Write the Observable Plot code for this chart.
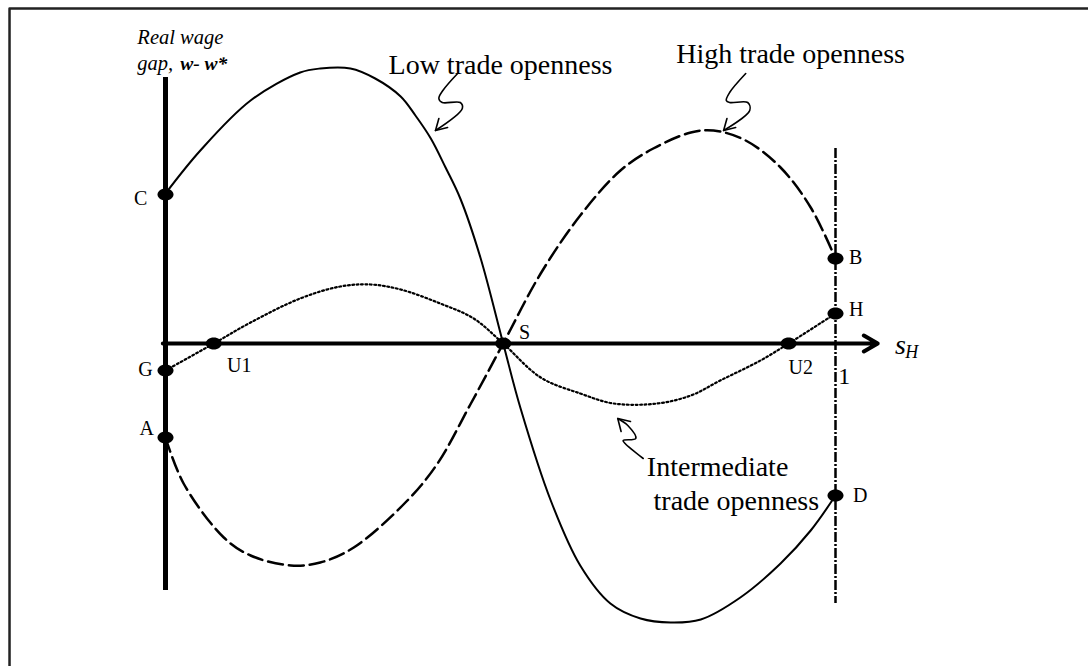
<!DOCTYPE html>
<html>
<head>
<meta charset="utf-8">
<script src="https://cdn.jsdelivr.net/npm/d3@7"></script>
<script src="https://cdn.jsdelivr.net/npm/@observablehq/plot@0.6"></script>
<style>
  html, body { margin: 0; padding: 0; background: #fff; }
  #chart svg { display: block; }
</style>
</head>
<body>
<div id="chart"></div>
<script>
// ---- Data (s_H share on x, real wage gap w - w* on y, arbitrary units) ----
const lowS  = [0, 0.052, 0.127, 0.201, 0.231, 0.276, 0.313, 0.351, 0.373, 0.396, 0.418, 0.440, 0.470, 0.504, 0.530, 0.575, 0.619, 0.664, 0.709, 0.754, 0.799, 0.858, 0.918, 0.963, 1.0];
const lowW  = [1.50, 1.93, 2.43, 2.71, 2.75, 2.75, 2.65, 2.47, 2.28, 2.05, 1.76, 1.45, 0.86, 0, -0.65, -1.57, -2.22, -2.60, -2.75, -2.79, -2.76, -2.54, -2.20, -1.87, -1.52];

const highS = [0, 0.027, 0.087, 0.127, 0.187, 0.231, 0.281, 0.361, 0.406, 0.455, 0.504, 0.560, 0.619, 0.679, 0.728, 0.784, 0.818, 0.866, 0.918, 0.963, 1.0];
const highW = [-0.94, -1.40, -1.94, -2.12, -2.22, -2.19, -2.04, -1.57, -1.20, -0.61, 0, 0.70, 1.28, 1.73, 1.95, 2.11, 2.13, 2.03, 1.76, 1.36, 0.85];

const midS  = [0, 0.072, 0.127, 0.201, 0.261, 0.306, 0.351, 0.410, 0.460, 0.504, 0.560, 0.619, 0.669, 0.734, 0.784, 0.828, 0.888, 0.930, 1.0];
const midW  = [-0.27, 0, 0.21, 0.45, 0.57, 0.59, 0.54, 0.40, 0.25, 0, -0.34, -0.50, -0.60, -0.60, -0.52, -0.37, -0.17, 0, 0.30];

const pointNames = ["C", "A", "G", "U1", "S", "U2", "B", "H", "D"];
const pointS     = [0, 0, 0, 0.072, 0.504, 0.930, 1, 1, 1];
const pointW     = [1.49, -0.94, -0.27, 0, 0, 0, 0.85, 0.30, -1.52];
const labelS     = [-0.037, -0.028, -0.030, 0.110, 0.536, 0.948, 1.030, 1.031, 1.037];
const labelW     = [1.45, -0.85, -0.26, -0.22, 0.11, -0.24, 0.86, 0.34, -1.52];

const curveNames = ["Low trade openness", "High trade openness", "Intermediate", "trade openness"];
const curveLabelS = [0.500, 0.933, 0.824, 0.852];
const curveLabelW = [2.78, 2.89, -1.24, -1.58];

// squiggly pointer arrows (shaft + head)
const lowArrowS  = [0.436, 0.414, 0.408, 0.413, 0.440, 0.443, 0.403];
const lowArrowW  = [2.70, 2.53, 2.45, 2.41, 2.41, 2.35, 2.13];
const highArrowS = [0.866, 0.842, 0.837, 0.842, 0.869, 0.872, 0.833];
const highArrowW = [2.70, 2.51, 2.43, 2.41, 2.41, 2.33, 2.13];
const midArrowS  = [0.713, 0.686, 0.683, 0.702, 0.690, 0.675];
const midArrowW  = [-1.15, -1.00, -0.97, -0.95, -0.82, -0.75];
const arrowHeads = [
  {id: "low",  s: [0.408, 0.403, 0.421], w: [2.25, 2.13, 2.16]},
  {id: "high", s: [0.838, 0.833, 0.851], w: [2.25, 2.13, 2.16]},
  {id: "mid",  s: [0.694, 0.675, 0.680], w: [-0.78, -0.75, -0.88]}
];

// ---- build tables ----
const zip = (xs, ys, extra = {}) => xs.map((x, i) => ({x, y: ys[i], ...extra}));
const low  = zip(lowS, lowW);
const high = zip(highS, highW);
const mid  = zip(midS, midW);
const points = pointNames.map((n, i) => ({name: n, x: pointS[i], y: pointW[i], lx: labelS[i], ly: labelW[i]}));
const curveLabels = curveNames.map((n, i) => ({name: n, x: curveLabelS[i], y: curveLabelW[i]}));
const heads = arrowHeads.flatMap(h => zip(h.s, h.w, {id: h.id}));

const serif = "'Liberation Serif', 'Times New Roman', Times, serif";

// ellipse symbol for the marked points
const ellipse = {
  draw(ctx) {
    const rx = 8, ry = 6, k = 0.5523;
    ctx.moveTo(rx, 0);
    ctx.bezierCurveTo(rx, ry * k, rx * k, ry, 0, ry);
    ctx.bezierCurveTo(-rx * k, ry, -rx, ry * k, -rx, 0);
    ctx.bezierCurveTo(-rx, -ry * k, -rx * k, -ry, 0, -ry);
    ctx.bezierCurveTo(rx * k, -ry, rx, -ry * k, rx, 0);
    ctx.closePath();
  }
};

// frame (page border) in data units
const frameS = [-0.2328, -0.2328, 1.385];
const frameW = [-3.4, 3.35, 3.35];

const chart = Plot.plot({
  width: 1088,
  height: 666,
  margin: 0,
  style: {background: "#fff", fontFamily: serif, color: "#000", overflow: "hidden"},
  x: {domain: [0, 1], range: [165, 835], axis: null},
  y: {domain: [0, 1], range: [343, 243], axis: null},
  marks: [
    Plot.line(zip(frameS, frameW), {x: "x", y: "y", stroke: "#222", strokeWidth: 2.5}),
    // vertical axis
    Plot.ruleX([0], {y1: 2.66, y2: -2.47, stroke: "#000", strokeWidth: 5}),
    // s_H = 1 dash-dot line
    Plot.ruleX([1], {y1: 1.95, y2: -2.60, stroke: "#000", strokeWidth: 2.5, strokeDasharray: "10,2,2,2"}),
    // horizontal axis with arrow
    Plot.arrow([{x1: -0.004, y1: 0, x2: 1.063, y2: 0}], {x1: "x1", y1: "y1", x2: "x2", y2: "y2", stroke: "#000", strokeWidth: 4, headLength: 6}),
    // curves
    Plot.line(low,  {x: "x", y: "y", curve: "catmull-rom", stroke: "#000", strokeWidth: 2}),
    Plot.line(high, {x: "x", y: "y", curve: "catmull-rom", stroke: "#000", strokeWidth: 2.5, strokeDasharray: "15,6"}),
    Plot.line(mid,  {x: "x", y: "y", curve: "catmull-rom", stroke: "#000", strokeWidth: 2.2, strokeDasharray: "1.8,2.6"}),
    // pointers
    Plot.line(zip(lowArrowS, lowArrowW),   {x: "x", y: "y", curve: "catmull-rom", stroke: "#000", strokeWidth: 1.6}),
    Plot.line(zip(highArrowS, highArrowW), {x: "x", y: "y", curve: "catmull-rom", stroke: "#000", strokeWidth: 1.6}),
    Plot.line(zip(midArrowS, midArrowW),   {x: "x", y: "y", curve: "catmull-rom", stroke: "#000", strokeWidth: 1.6}),
    Plot.line(heads, {x: "x", y: "y", z: "id", stroke: "#000", strokeWidth: 1.6}),
    // marked points
    Plot.dot(points, {x: "x", y: "y", symbol: ellipse, fill: "#000", stroke: "none"}),
    Plot.text(points, {x: "lx", y: "ly", text: "name", fontSize: 20, fontFamily: serif, fill: "#000"}),
    Plot.text(["1"], {x: 1.013, y: -0.33, text: d => d, fontSize: 24, fontFamily: serif, fill: "#000"}),
    // axis titles
    Plot.text(["s"], {x: 1.097, y: -0.02, text: d => d, fontSize: 28, fontStyle: "italic", fontFamily: serif, fill: "#000"}),
    Plot.text(["H"], {x: 1.104, y: -0.09, text: d => d, fontSize: 18, fontStyle: "italic", fontFamily: serif, fill: "#000", textAnchor: "start"}),
    Plot.text(["Real wage"], {x: -0.042, y: 3.06, text: d => d, fontSize: 20.5, fontStyle: "italic", fontFamily: serif, fill: "#000", textAnchor: "start"}),
    Plot.text(["gap,"], {x: -0.042, y: 2.80, text: d => d, fontSize: 20.5, fontStyle: "italic", fontFamily: serif, fill: "#000", textAnchor: "start"}),
    Plot.text(["w- w*"], {x: 0.022, y: 2.80, text: d => d, fontSize: 19.5, fontStyle: "italic", fontWeight: "bold", fontFamily: serif, fill: "#000", textAnchor: "start"}),
    // curve labels
    Plot.text(curveLabels, {x: "x", y: "y", text: "name", fontSize: 28, fontFamily: serif, fill: "#000"})
  ]
});
document.getElementById("chart").append(chart);
</script>
</body>
</html>
